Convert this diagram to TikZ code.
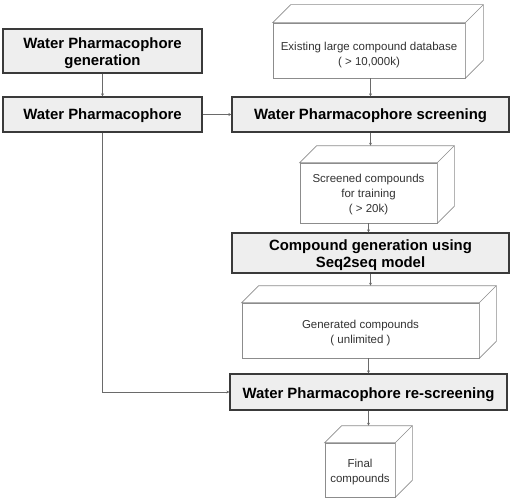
\documentclass[tikz,border=0pt]{standalone}
\usepackage{fontspec}
\setmainfont{Liberation Sans}
\usetikzlibrary{arrows.meta,calc}
\definecolor{boxfill}{HTML}{EEEEEE}
\definecolor{boxline}{HTML}{3A3A3A}
\definecolor{cubeline}{HTML}{8C8C8C}
\definecolor{conn}{HTML}{6A6A6A}
\definecolor{cubetext}{HTML}{333333}
\tikzset{
  stepbox/.style={draw=boxline, line width=1.2pt, fill=boxfill, inner sep=0pt},
  steptext/.style={inner sep=0pt, align=center, font=\fontsize{14.9}{17}\selectfont\bfseries},
  cubefront/.style={draw=cubeline, line width=0.6pt, fill=white, inner sep=0pt},
  cubetxt/.style={inner sep=0pt, align=center, text=cubetext, font=\fontsize{11.5}{15}\selectfont},
  cubeedge/.style={draw=cubeline, line width=0.6pt, line join=miter},
  conn/.style={draw=conn, line width=0.6pt, -{Stealth[length=3pt,width=3pt]}},
}
\newcommand{\cubefaces}[2]{% node name, depth
  \draw[cubeedge, fill=white] (#1.north west) -- ++(#2,-#2) -- ($(#1.north east)+(#2,-#2)$) -- ($(#1.south east)+(#2,-#2)$) -- (#1.south east) -- (#1.north east) -- cycle;
  \draw[cubeedge] (#1.north east) -- ++(#2,-#2);
  \coordinate (#1top) at ($(#1.north)+(0,-#2)$);
}
\begin{document}
\begin{tikzpicture}[x=1pt,y=-1pt]
\useasboundingbox (0,0) rectangle (511,500);
% boxes
\node[stepbox, minimum width=199pt, minimum height=44pt] (A) at (102.5,51) {};
\node[steptext] (At) at ($(A.center)+(0,2)$) {Water Pharmacophore\\generation};
\node[stepbox, minimum width=199pt, minimum height=35pt] (B) at (102.5,114.5) {};
\node[steptext] (Bt) at ($(B.center)+(0,1.5)$) {Water Pharmacophore};
\node[stepbox, minimum width=277pt, minimum height=35pt] (C) at (370.5,114.5) {};
\node[steptext] (Ct) at ($(C.center)+(0,1.5)$) {Water Pharmacophore screening};
\node[stepbox, minimum width=277pt, minimum height=40pt] (D) at (370.5,253) {};
\node[steptext] (Dt) at ($(D.center)+(0,2.5)$) {Compound generation using\\Seq2seq model};
\node[stepbox, minimum width=277pt, minimum height=36pt] (E) at (368.5,392) {};
\node[steptext] (Et) at ($(E.center)+(0,2.5)$) {Water Pharmacophore re-screening};
% cubes
\node[cubefront, minimum width=192pt, minimum height=55pt] (K1) at (369,50.5) {};
\cubefaces{K1}{18}
\node[cubetxt] (K1t) at ($(K1.center)+(0,5)$) {Existing large compound database\\( > 10,000k)};
\node[cubefront, minimum width=137pt, minimum height=60pt] (K2) at (368.5,193) {};
\cubefaces{K2}{17}
\node[cubetxt] (K2t) at ($(K2.center)+(0,2)$) {Screened compounds\\for training\\( > 20k)};
\node[cubefront, minimum width=237pt, minimum height=55pt] (K3) at (360.5,330.5) {};
\cubefaces{K3}{17}
\node[cubetxt] (K3t) at ($(K3.center)+(0,3)$) {Generated compounds\\( unlimited )};
\node[cubefront, minimum width=70pt, minimum height=54pt] (K4) at (360,470) {};
\cubefaces{K4}{17}
\node[cubetxt] (K4t) at ($(K4.center)+(0,2)$) {Final\\compounds};
% connectors
\draw[conn] (A.south) -- (B.north);
\draw[conn] (B.east) -- (C.west);
\draw[conn] (K1.south -| C.north) -- (C.north);
\draw[conn] (C.south) -- (C.south |- K2top);
\draw[conn] (K2.south) -- (K2.south |- D.north);
\draw[conn] (D.south) -- (D.south |- K3top);
\draw[conn] (K3.south -| E.north) -- (E.north);
\draw[conn] (E.south) -- (E.south |- K4top);
\draw[conn] (B.south) |- (E.west);
\end{tikzpicture}
\end{document}
